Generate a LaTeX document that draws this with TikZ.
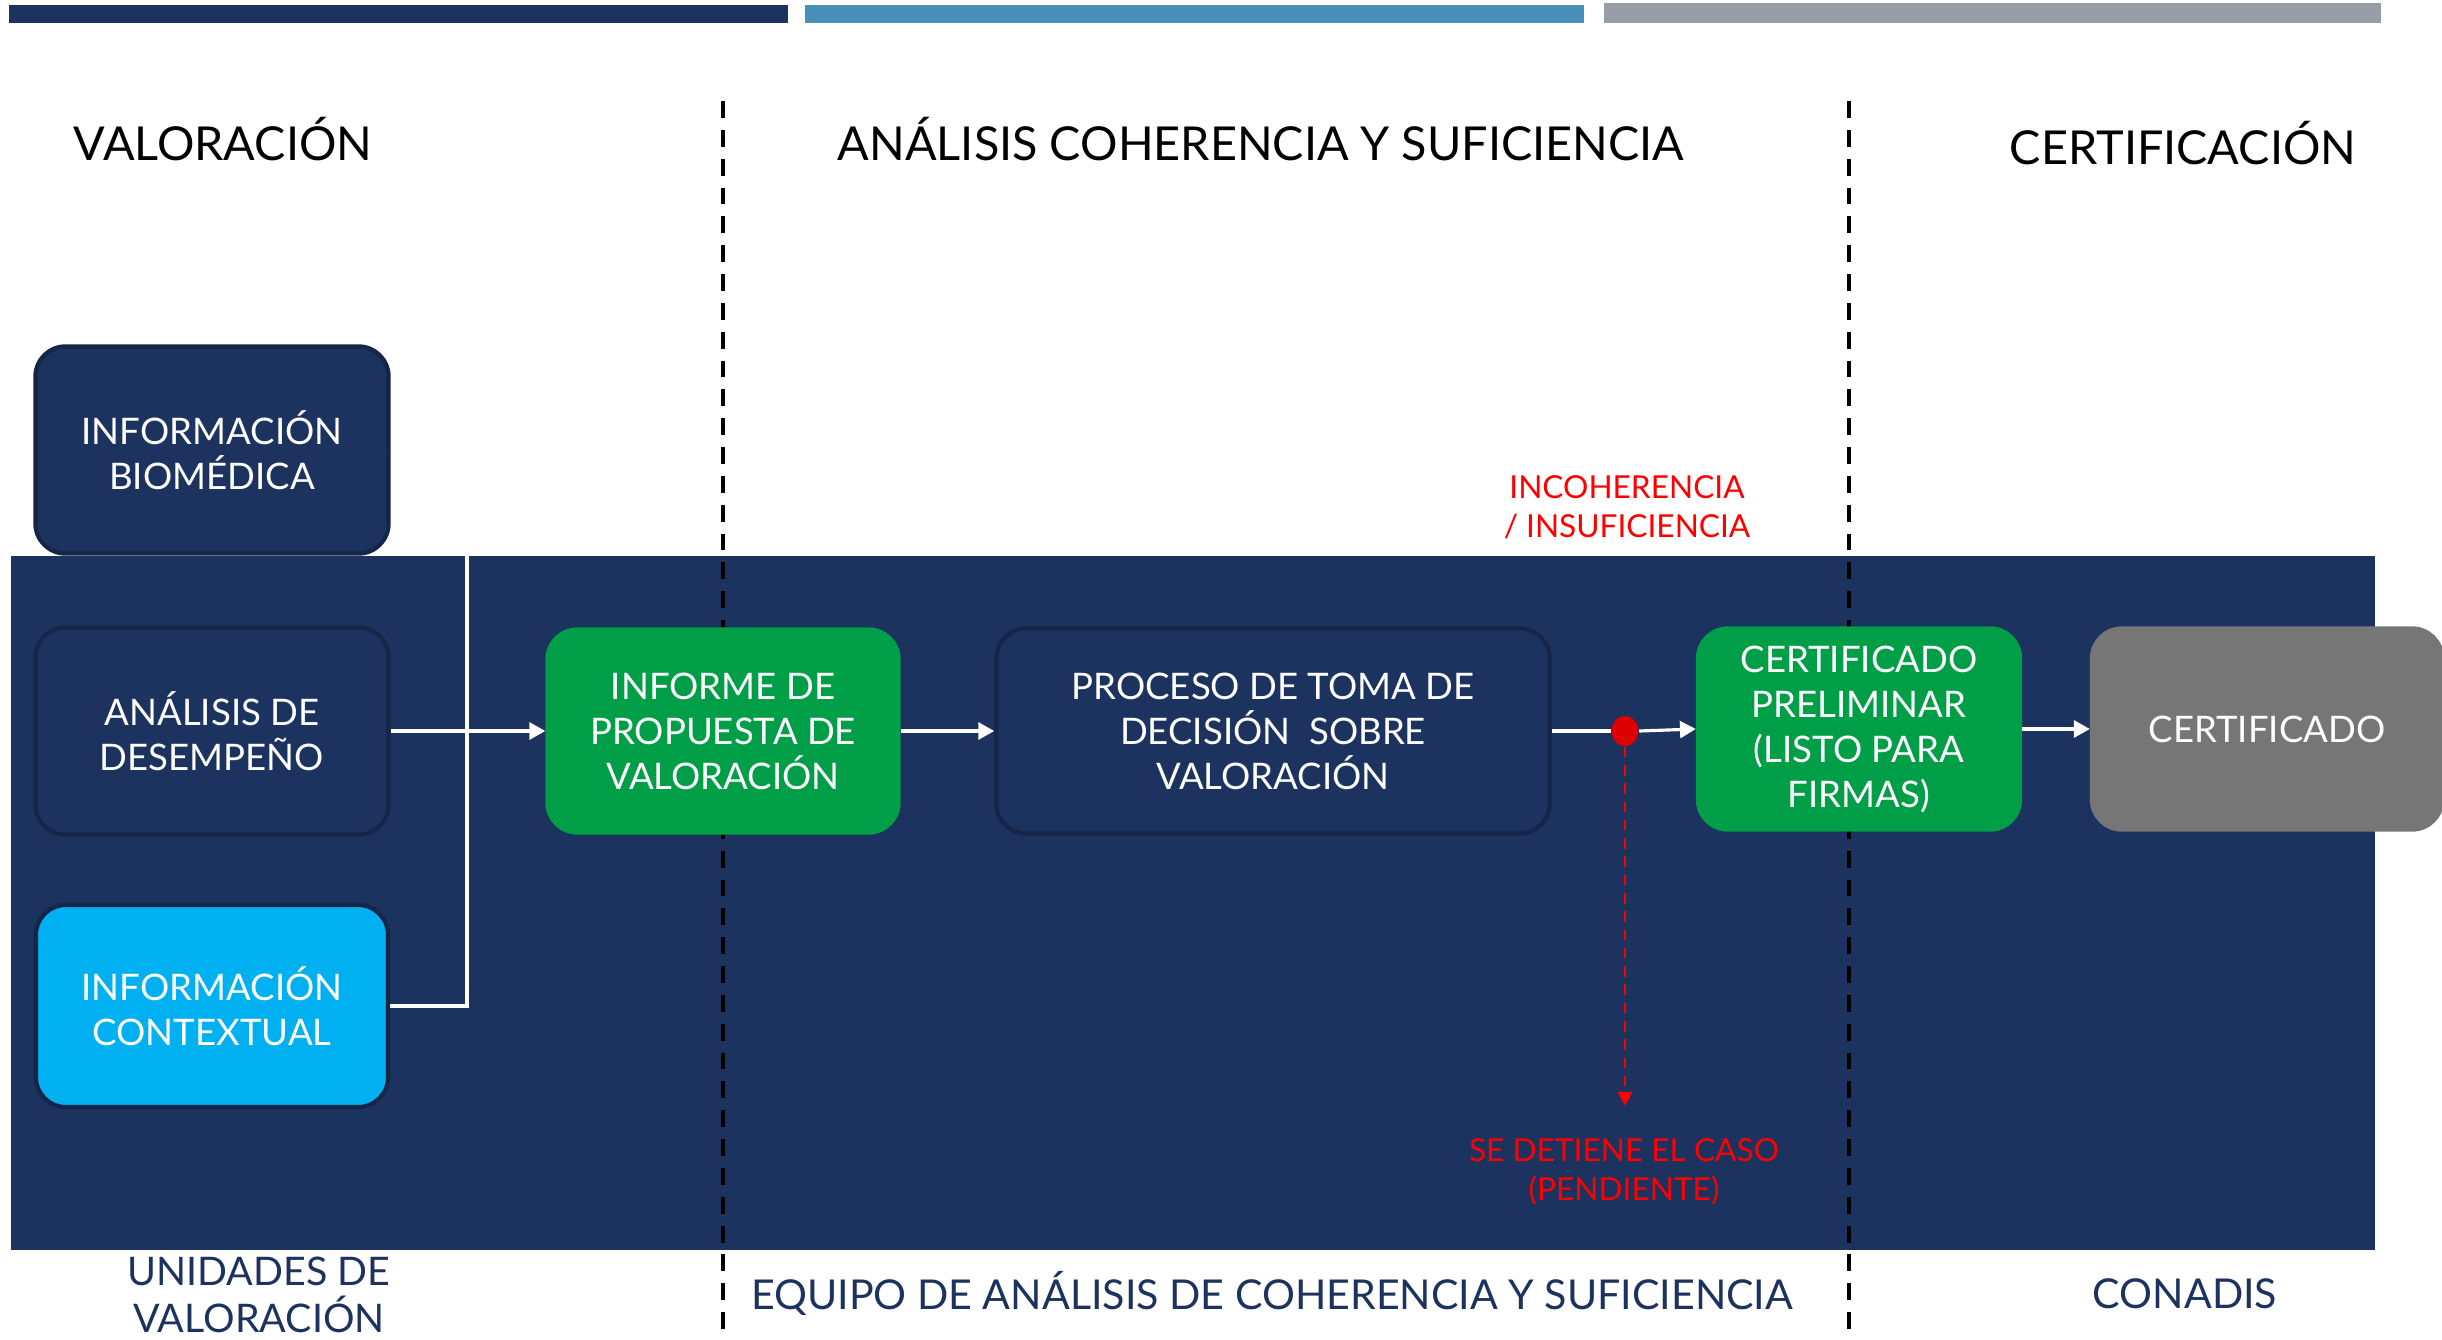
\documentclass[tikz,border=0pt]{standalone}
\usepackage{fontspec}
\setmainfont{Lato}
\usetikzlibrary{arrows.meta,shapes.geometric}

\definecolor{navy}{RGB}{28,50,95}
\definecolor{navyedge}{RGB}{20,37,72}
\definecolor{steel}{RGB}{72,144,186}
\definecolor{greybar}{RGB}{152,158,168}
\definecolor{okgreen}{RGB}{0,158,71}
\definecolor{skycyan}{RGB}{0,176,240}
\definecolor{certgrey}{RGB}{118,118,118}
\definecolor{alertred}{RGB}{255,0,0}
\definecolor{dotred}{RGB}{222,0,0}

\begin{document}
\begin{tikzpicture}[x=0.01cm,y=-0.01cm,
	stagebox/.style={draw=navyedge, line width=1.2pt, fill=navy, text=white, shape=rectangle, rounded corners=0.3cm, align=center, font=\fontsize{10.4}{12.8}\selectfont},
	greenbox/.style={stagebox, draw=okgreen, fill=okgreen},
	heading/.style={text=black, font=\fontsize{13.3}{16}\selectfont},
	owner/.style={text=navy, align=center, font=\fontsize{11.7}{13.6}\selectfont},
	alert/.style={text=alertred, align=center, font=\fontsize{9}{11.1}\selectfont},
	flow/.style={draw=white, line width=0.9pt},
	divider/.style={draw=black, line width=1.1pt, dash pattern=on 4.8pt off 3.4pt}]
	\useasboundingbox (0,0) rectangle (2442,1339);

	% colour bars and swimlane
	\fill[navy] (9,5) rectangle (788,23);
	\fill[steel] (805,5) rectangle (1584,23);
	\fill[greybar] (1604,3) rectangle (2381,23);
	\fill[navy] (11,556) rectangle (2375,1250);
	\draw[divider] (723,101) -- (723,1339);
	\draw[divider] (1849,101) -- (1849,1339);

	\node[heading] (h_val) at (223,139) {VALORACIÓN};
	\node[heading] (h_ana) at (1261,139) {ANÁLISIS COHERENCIA Y SUFICIENCIA};
	\node[heading] (h_cert) at (2183,143) {CERTIFICACIÓN};

	\node[stagebox, minimum width=3.53cm, minimum height=2.07cm] (b_bio) at (212,450) {INFORMACIÓN\\BIOMÉDICA};
	\node[stagebox, minimum width=3.53cm, minimum height=2.07cm] (b_ana) at (212,731) {ANÁLISIS DE\\DESEMPEÑO};
	\node[stagebox, fill=skycyan, minimum width=3.52cm, minimum height=2.02cm] (b_ctx) at (212,1006) {INFORMACIÓN\\CONTEXTUAL};
	\node[greenbox, minimum width=3.51cm, minimum height=2.03cm] (b_inf) at (723,731) {INFORME DE\\PROPUESTA DE\\VALORACIÓN};
	\node[stagebox, minimum width=5.53cm, minimum height=2.05cm] (b_proc) at (1273,731) {PROCESO DE TOMA DE\\DECISIÓN\ \ SOBRE\\VALORACIÓN};
	\node[greenbox, minimum width=3.22cm, minimum height=2.01cm] (b_pre) at (1859,729) {CERTIFICADO\\PRELIMINAR\\(LISTO PARA\\FIRMAS)};
	\node[stagebox, draw=certgrey, fill=certgrey, minimum width=3.5cm, minimum height=2.01cm] (b_cert) at (2267,729) {CERTIFICADO};

	\node[shape=ellipse, fill=dotred, minimum width=0.27cm, minimum height=0.30cm, inner sep=0pt] (p_stop) at (1625,731) {};
	\coordinate (p_join) at (467,731);
	\coordinate (p_halt) at (1625,1106);

	\node[alert] (t_inc) at (1627,507) {INCOHERENCIA\\/ INSUFICIENCIA};
	\node[alert] (t_halt) at (1624,1172) {SE DETIENE EL CASO\\(PENDIENTE)};

	\node[owner, font=\fontsize{11.2}{13.2}\selectfont] (o_uv) at (259,1295) {UNIDADES DE\\VALORACIÓN};
	\node[owner] (o_eq) at (1272,1293) {EQUIPO DE ANÁLISIS DE COHERENCIA Y SUFICIENCIA};
	\node[owner] (o_con) at (2185,1294) {CONADIS};

	\draw[flow] (b_bio.east) -| (p_join);
	\draw[flow] (b_ctx.east) -| (p_join);
	\draw[flow] (b_ana.east) -- (p_join);
	\draw[flow, -{Triangle[length=4.5pt,width=4.8pt]}] (p_join) -- (b_inf.west);
	\draw[flow, -{Triangle[length=4.5pt,width=4.8pt]}] (b_inf.east) -- (b_proc.west);
	\draw[flow] (b_proc.east) -- (p_stop.west);
	\draw[flow, -{Triangle[length=4.5pt,width=4.8pt]}] (p_stop.east) -- (b_pre.west);
	\draw[flow, -{Triangle[length=4.5pt,width=4.8pt]}] (b_pre.east) -- (b_cert.west);
	\draw[draw=alertred, line width=0.8pt, dash pattern=on 3pt off 2.2pt, -{Triangle[length=4pt,width=4pt]}] (p_stop.south) -- (p_halt);
\end{tikzpicture}
\end{document}
